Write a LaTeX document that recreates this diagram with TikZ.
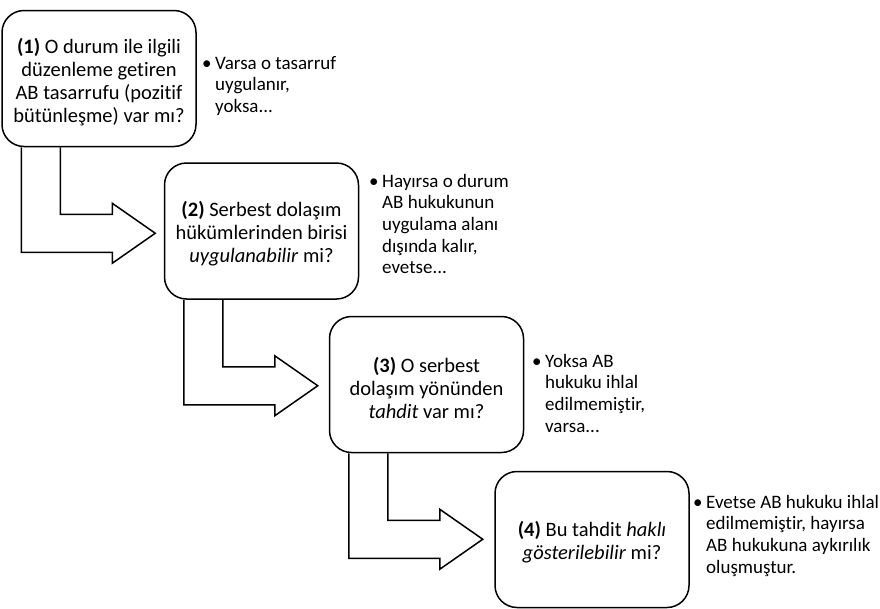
\documentclass[tikz,border=0pt]{standalone}
\usepackage{fontspec}
\setmainfont{Carlito}[Ligatures=NoCommon]
\usetikzlibrary{calc}
\newcommand{\bul}[1]{\begin{tabular}[t]{@{}l@{\hspace{3.5pt}}l@{}}#1\end{tabular}}
\begin{document}
\begin{tikzpicture}[x=1pt,y=-1pt,
  qbox/.style={draw, line width=1.5pt, rounded corners=22pt, minimum width=194pt, minimum height=136pt, inner sep=0pt},
  qtext/.style={align=center, inner sep=0pt, font=\fontsize{20.5}{23}\selectfont},
  note/.style={anchor=base west, inner sep=0pt, font=\fontsize{19}{21.7}\selectfont},
  bent/.style={draw, line width=1.5pt, line join=miter}]
\useasboundingbox (0,0) rectangle (880,608);
\node[qbox] (b1) at (99,78.5) {};
\node[qbox] (b2) at (261.5,231) {};
\node[qbox] (b3) at (426.5,384.5) {};
\node[qbox] (b4) at (592,539.5) {};
\node[qtext] (t1) at ($(b1.center)+(0,3.5)$) {\textbf{(1)} O durum ile ilgili\\düzenleme getiren\\AB tasarrufu (pozitif\\bütünleşme) var mı?};
\node[qtext] (t2) at ($(b2.center)+(0,3)$) {\textbf{(2)} Serbest dolaşım\\hükümlerinden birisi\\\textit{uygulanabilir} mi?};
\node[qtext] (t3) at ($(b3.center)+(0,3)$) {\textbf{(3)} O serbest\\dolaşım yönünden\\\textit{tahdit} var mı?};
\node[qtext] (t4) at ($(b4.center)+(0,3)$) {\textbf{(4)} Bu tahdit \textit{haklı}\\\textit{gösterilebilir} mi?};
\node[note] (n1) at (202,69) {\bul{\textbullet & Varsa o tasarruf\\ & uygulanır,\\ & yoksa...}};
\node[note] (n2) at (369,187) {\bul{\textbullet & Hayırsa o durum\\ & AB hukukunun\\ & uygulama alanı\\ & dışında kalır,\\ & evetse...}};
\node[note] (n3) at (532,367) {\bul{\textbullet & Yoksa AB\\ & hukuku ihlal\\ & edilmemiştir,\\ & varsa...}};
\node[note] (n4) at (693,508) {\bul{\textbullet & Evetse AB hukuku ihlal\\ & edilmemiştir, hayırsa\\ & AB hukukuna aykırılık\\ & oluşmuştur.}};
\foreach \a in {1,2,3}{
  \draw[bent] ($(b\a.south west)+(20,0)$) -- ++(0,105) -- ++(91,0) -- ++(0,11) -- ++(43,-30) -- ++(-43,-30) -- ++(0,11) -- ++(-52,0) -- ++(0,-67);
}
\end{tikzpicture}
\end{document}
